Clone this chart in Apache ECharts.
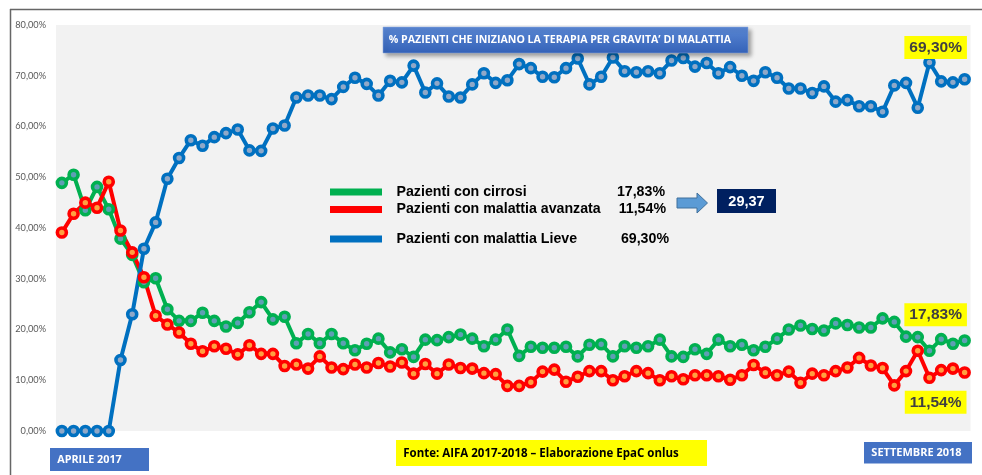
<!DOCTYPE html>
<html>
<head>
<meta charset="utf-8">
<script src="https://cdn.jsdelivr.net/npm/echarts@6/dist/echarts.min.js"></script>
<style>
    html, body { margin: 0; padding: 0; background: #fff; }
    #chart { width: 982px; height: 475px; }
</style>
</head>
<body>
<div id="chart"></div>
<script>
// settimane da aprile 2017 a settembre 2018
var weeks = [];
for (var w = 1; w <= 78; w++) {
    weeks.push('Sett. ' + w);
}

// % pazienti con cirrosi
var cirrosi = [
    48.9, 50.5, 43.5, 48.1, 43.7, 37.9, 34.7, 29.3, 30.1, 24.0,
    21.7, 21.7, 23.3, 21.7, 20.6, 21.3, 23.4, 25.4, 22.0, 22.5,
    17.3, 19.1, 17.3, 19.1, 17.3, 15.9, 17.2, 18.2, 15.5, 16.1,
    14.6, 18.0, 17.9, 18.5, 19.0, 18.2, 16.7, 18.0, 20.0, 14.8,
    16.6, 16.4, 16.4, 16.6, 14.7, 17.0, 17.1, 14.7, 16.7, 16.4,
    16.7, 18.0, 14.7, 14.6, 16.1, 15.2, 18.0, 16.7, 17.0, 15.9,
    16.6, 18.2, 20.0, 20.8, 20.1, 19.8, 21.2, 20.9, 20.4, 20.4,
    22.2, 21.5, 18.6, 18.5, 15.8, 18.1, 17.2, 17.83
];

// % pazienti con malattia avanzata
var avanzata = [
    39.1, 42.8, 45.0, 44.0, 49.1, 39.5, 35.2, 30.3, 22.7, 21.0,
    19.4, 17.2, 15.7, 16.7, 16.2, 15.1, 16.9, 15.2, 15.2, 12.8,
    13.1, 12.3, 14.7, 12.5, 12.2, 13.1, 12.5, 13.4, 12.7, 13.5,
    11.3, 13.2, 11.3, 13.1, 12.4, 12.3, 11.4, 11.2, 8.9, 8.9,
    9.6, 11.7, 12.1, 9.7, 10.7, 11.8, 11.8, 10.0, 10.8, 11.8,
    11.4, 10.0, 10.8, 10.2, 11.0, 11.0, 10.8, 10.1, 11.0, 13.0,
    11.5, 11.0, 11.7, 9.5, 11.3, 11.0, 11.8, 12.5, 14.4, 12.9,
    12.4, 9.0, 11.8, 15.8, 10.5, 12.0, 12.3, 11.54
];

// % pazienti con malattia lieve
var lieve = [
    0, 0, 0, 0, 0, 14.0, 23.0, 35.9, 41.1, 49.7,
    53.8, 57.3, 56.2, 57.9, 58.7, 59.4, 55.3, 55.2, 59.6, 60.2,
    65.7, 66.1, 66.1, 65.4, 67.8, 69.6, 68.4, 66.1, 69.0, 68.7,
    72.0, 66.7, 68.5, 65.9, 65.7, 68.3, 70.5, 68.6, 69.1, 72.3,
    71.5, 69.8, 69.7, 71.5, 73.4, 68.3, 69.8, 73.6, 70.9, 70.7,
    70.9, 70.5, 73.0, 73.5, 71.8, 72.5, 70.5, 71.7, 70.0, 69.0,
    70.7, 69.6, 67.5, 67.5, 66.6, 67.9, 64.9, 65.2, 64.0, 64.0,
    62.9, 68.1, 68.6, 63.7, 72.6, 68.9, 68.7, 69.30
];

var yTicks = [0, 10, 20, 30, 40, 50, 60, 70, 80];

function pct(v) {
    return v.toFixed(2).replace('.', ',') + '%';
}

// ultimo punto con etichetta gialla
function withLastLabel(values, position, distance) {
    var out = values.slice(0, values.length - 1);
    var last = values[values.length - 1];
    out.push({
        value: last,
        label: {
            show: true,
            position: position,
            distance: distance,
            offset: [-29, 0],
            formatter: pct(last),
            backgroundColor: '#FFFF00',
            color: '#404040',
            fontFamily: 'Liberation Sans',
            fontWeight: 'bold',
            fontSize: 15.5,
            padding: [4, 5, 3, 5]
        }
    });
    return out;
}

function lineSeries(name, values, color, center, labelPos, labelDist) {
    return {
        name: name,
        type: 'line',
        data: withLastLabel(values, labelPos, labelDist),
        symbol: 'circle',
        symbolSize: 9,
        showAllSymbol: true,
        lineStyle: { color: color, width: 4 },
        itemStyle: { color: center, borderColor: color, borderWidth: 3.6 },
        emphasis: { disabled: true },
        animation: false
    };
}

var legendFont = 'bold 14.2px "Liberation Sans"';

var myChart = echarts.init(document.getElementById('chart'));
var option = {
    backgroundColor: '#fff',
    grid: {
        left: 56, right: 11.5, top: 25, bottom: 44,
        show: true, backgroundColor: '#F2F2F2', borderWidth: 0
    },
    xAxis: {
        type: 'category',
        data: weeks,
        boundaryGap: true,
        axisLine: { show: false },
        axisTick: { show: false },
        axisLabel: { show: false }
    },
    yAxis: {
        type: 'value',
        min: yTicks[0],
        max: yTicks[yTicks.length - 1],
        interval: 10,
        axisLine: { show: false },
        axisTick: { show: false },
        splitLine: { show: false },
        axisLabel: {
            formatter: function (v) { return pct(v); },
            color: '#595959',
            fontFamily: 'Lato',
            fontSize: 9.2,
            margin: 10
        }
    },
    series: [
        lineSeries('Pazienti con cirrosi', cirrosi, '#00B050', '#5E9FB4', 'top', 8),
        lineSeries('Pazienti con malattia avanzata', avanzata, '#FF0000', '#FFA040', 'bottom', 12),
        lineSeries('Pazienti con malattia Lieve', lieve, '#0070C0', '#8FA8C8', 'top', 14)
    ],
    graphic: [
        // cornice
        { type: 'line', shape: { x1: 10, y1: 9.5, x2: 982, y2: 9.5 }, style: { stroke: '#666', lineWidth: 1.5 } },
        { type: 'line', shape: { x1: 10.5, y1: 9, x2: 10.5, y2: 475 }, style: { stroke: '#666', lineWidth: 1.5 } },

        // titolo
        {
            type: 'rect', shape: { x: 383, y: 27, width: 365, height: 26 },
            style: {
                fill: {
                    type: 'linear', x: 0, y: 0, x2: 0, y2: 1,
                    colorStops: [{ offset: 0, color: '#5A87D4' }, { offset: 1, color: '#3462B8' }]
                },
                stroke: '#8FAADC', lineWidth: 0.5,
                shadowBlur: 4, shadowOffsetX: 3, shadowOffsetY: 3, shadowColor: 'rgba(0,0,0,0.35)'
            },
            z: 10
        },
        {
            type: 'text', x: 560, y: 40, z: 11,
            style: {
                text: '% PAZIENTI CHE INIZIANO LA TERAPIA PER GRAVITA’ DI MALATTIA',
                fill: '#fff', font: 'bold 10.6px "Open Sans"', align: 'center', verticalAlign: 'middle'
            }
        },

        // legenda
        { type: 'rect', shape: { x: 330, y: 188.5, width: 52, height: 7 }, style: { fill: '#00B050' } },
        { type: 'rect', shape: { x: 330, y: 206, width: 52, height: 7 }, style: { fill: '#FF0000' } },
        { type: 'rect', shape: { x: 330, y: 235.5, width: 52, height: 7 }, style: { fill: '#0070C0' } },
        { type: 'text', x: 396.5, y: 192, style: { text: 'Pazienti con cirrosi', fill: '#000', font: legendFont, verticalAlign: 'middle' } },
        { type: 'text', x: 396.5, y: 209.5, style: { text: 'Pazienti con malattia avanzata', fill: '#000', font: legendFont, verticalAlign: 'middle' } },
        { type: 'text', x: 396.5, y: 239, style: { text: 'Pazienti con malattia Lieve', fill: '#000', font: legendFont, verticalAlign: 'middle' } },
        { type: 'text', x: 665, y: 192, style: { text: pct(cirrosi[cirrosi.length - 1]), fill: '#000', font: legendFont, align: 'right', verticalAlign: 'middle' } },
        { type: 'text', x: 666, y: 209.5, style: { text: pct(avanzata[avanzata.length - 1]), fill: '#000', font: legendFont, align: 'right', verticalAlign: 'middle' } },
        { type: 'text', x: 669, y: 239, style: { text: pct(lieve[lieve.length - 1]), fill: '#000', font: legendFont, align: 'right', verticalAlign: 'middle' } },

        // freccia e totale
        {
            type: 'polygon',
            shape: { points: [[677, 198], [697, 198], [697, 193], [707.5, 203], [697, 213], [697, 208], [677, 208]] },
            style: { fill: '#5B9BD5', stroke: '#41719C', lineWidth: 1 }
        },
        { type: 'rect', shape: { x: 717, y: 189, width: 59, height: 24 }, style: { fill: '#002060' } },
        {
            type: 'text', x: 746.5, y: 201.5,
            style: { text: '29,37', fill: '#fff', font: 'bold 14.5px "Liberation Sans"', align: 'center', verticalAlign: 'middle' }
        },

        // fonte
        { type: 'rect', shape: { x: 396, y: 440, width: 311, height: 26 }, style: { fill: '#FFFF00' } },
        {
            type: 'text', x: 541, y: 453.5,
            style: { text: 'Fonte: AIFA 2017-2018 – Elaborazione EpaC onlus', fill: '#000', font: 'bold 11.5px "Open Sans"', align: 'center', verticalAlign: 'middle' }
        },

        // periodo
        { type: 'rect', shape: { x: 50, y: 448, width: 99, height: 23 }, style: { fill: '#4472C4' } },
        {
            type: 'text', x: 89.5, y: 459.5,
            style: { text: 'APRILE 2017', fill: '#fff', font: 'bold 10.8px "Open Sans"', align: 'center', verticalAlign: 'middle' }
        },
        { type: 'rect', shape: { x: 864, y: 442, width: 108, height: 21.5 }, style: { fill: '#4472C4' } },
        {
            type: 'text', x: 916.5, y: 452.5,
            style: { text: 'SETTEMBRE 2018', fill: '#fff', font: 'bold 11px "Open Sans"', align: 'center', verticalAlign: 'middle' }
        }
    ]
};
myChart.setOption(option);
</script>
</body>
</html>
